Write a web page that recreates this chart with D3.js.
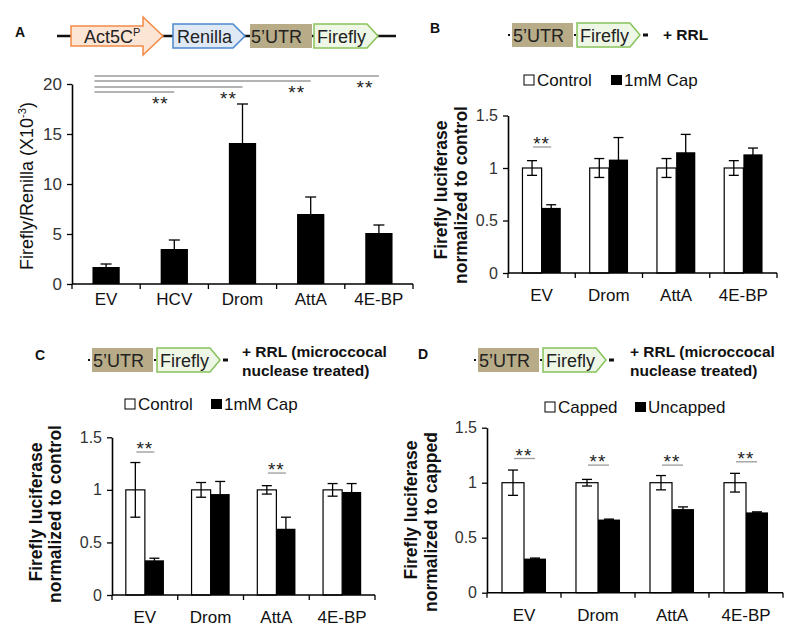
<!DOCTYPE html>
<html><head><meta charset="utf-8">
<script src="https://cdn.jsdelivr.net/npm/d3@7"></script>
<style>
body{margin:0;background:#fff;}
svg{display:block;font-family:"Liberation Sans",Arial,sans-serif;}
</style></head><body>
<svg id="c" width="800" height="638"></svg>
<script>
// ---------- DATA ----------
const catsA = ["EV","HCV","Drom","AttA","4E-BP"];
const valsA = [1.7,3.5,14.1,7.0,5.1];
const errA  = [0.3,0.9,3.9,1.7,0.8];
const ticksA = [0,5,10,15,20];
const sigA = [{to:"HCV",y:19.2},{to:"Drom",y:19.7},{to:"AttA",y:20.3},{to:"4E-BP",y:20.8}];

const catsN = ["EV","Drom","AttA","4E-BP"];
const ticksN = [0,0.5,1,1.5];

const ctrlB = [1,1,1,1];
const ctrlErrB = [0.07,0.09,0.09,0.07];
const capB = [0.62,1.08,1.15,1.13];
const capErrB = [0.03,0.21,0.17,0.06];
const sigB = [{cat:"EV",y:1.20}];

const ctrlC = [1,1,1,1];
const ctrlErrC = [0.26,0.07,0.04,0.06];
const capC = [0.33,0.96,0.63,0.98];
const capErrC = [0.02,0.12,0.11,0.08];
const sigC = [{cat:"EV",y:1.36},{cat:"AttA",y:1.16}];

const cappedD = [1,1,1,1];
const cappedErrD = [0.115,0.03,0.065,0.085];
const uncD = [0.31,0.665,0.76,0.73];
const uncErrD = [0.005,0.004,0.02,0.005];
const sigD = [{cat:"EV",y:1.22},{cat:"Drom",y:1.16},{cat:"AttA",y:1.16},{cat:"4E-BP",y:1.19}];

// ---------- DRAW ----------
const svg = d3.select("#c");
const SIG = "#9a9a9a";

function yAxis(g, y, ticks, fs){
  const ax = g.append("g")
    .call(d3.axisLeft(y).tickValues(ticks).tickSize(5).tickSizeOuter(0).tickPadding(5).tickFormat(d=>String(d)));
  ax.select(".domain").attr("stroke","#000").attr("stroke-width",1.6);
  ax.selectAll(".tick line").attr("stroke","#000").attr("stroke-width",1.3);
  ax.selectAll(".tick text").attr("font-size",fs).attr("fill","#333").attr("font-family","Liberation Sans, Arial, sans-serif");
  return ax;
}
function xAxis(g, x, y0, labOff, fs){
  const r = x.range();
  g.append("line").attr("x1",r[0]).attr("x2",r[1]).attr("y1",y0).attr("y2",y0).attr("stroke","#000").attr("stroke-width",1.6);
  const n = x.domain().length;
  for(let i=0;i<=n;i++){
    const xx = r[0]+i*x.step();
    g.append("line").attr("x1",xx).attr("x2",xx).attr("y1",y0).attr("y2",y0+5).attr("stroke","#000").attr("stroke-width",1.3);
  }
  g.selectAll(null).data(x.domain()).enter().append("text")
    .attr("x",d=>x(d)+x.bandwidth()/2).attr("y",y0+labOff)
    .attr("text-anchor","middle").attr("font-size",fs).attr("fill","#111").text(d=>d);
}
function errBar(g, cx, y, v, e, cap){
  const t=y(v+e), b=y(v-e);
  g.append("line").attr("x1",cx).attr("x2",cx).attr("y1",t).attr("y2",b).attr("stroke","#000").attr("stroke-width",1.3);
  [t,b].forEach(yy=>g.append("line").attr("x1",cx-cap/2).attr("x2",cx+cap/2).attr("y1",yy).attr("y2",yy).attr("stroke","#000").attr("stroke-width",1.3));
}
function stars(g, cx, yLine, gap){
  g.append("text").attr("x",cx).attr("y",yLine-gap).attr("text-anchor","middle")
    .attr("font-size",19).attr("fill","#222").attr("letter-spacing",1).text("**");
}
function yTitle(g, lines, xs, yc, fs, bold){
  lines.forEach((l,i)=>{
    const t = g.append("text").attr("transform",`translate(${xs[i]},${yc[i]}) rotate(-90)`)
      .attr("text-anchor","middle").attr("font-size",fs).attr("font-weight",bold?"bold":"normal").attr("fill","#111");
    if(Array.isArray(l)){
      t.append("tspan").text(l[0]);
      t.append("tspan").attr("font-size",fs*0.62).attr("dy",-fs*0.38).text(l[1]);
      t.append("tspan").attr("dy",fs*0.38).text(l[2]);
    } else t.text(l);
  });
}

// ---------- Panel A ----------
(function(){
  const g = svg.append("g");
  const x = d3.scaleBand().domain(catsA).range([72,413]).paddingInner(0.6).paddingOuter(0.3);
  const y = d3.scaleLinear().domain([0,20]).range([284,84]);
  g.selectAll(null).data(catsA).enter().append("rect")
    .attr("x",d=>x(d)).attr("width",x.bandwidth())
    .attr("y",(d,i)=>y(valsA[i])).attr("height",(d,i)=>y(0)-y(valsA[i])).attr("fill","#000");
  catsA.forEach((c,i)=>errBar(g, x(c)+x.bandwidth()/2, y, valsA[i], errA[i], 11));
  const ga = g.append("g").attr("transform","translate(72,0)");
  yAxis(ga, y, ticksA, 17);
  xAxis(g, x, 284, 21, 17);
  sigA.forEach(s=>{
    const xe = x(s.to)+x.bandwidth()/2;
    g.append("line").attr("x1",x("EV")+2).attr("x2",xe).attr("y1",y(s.y)).attr("y2",y(s.y)).attr("stroke",SIG).attr("stroke-width",1.3);
    stars(g, xe-14, y(s.y), -18);
  });
  yTitle(g, [["Firefly/Renilla (X10","-3",")"]], [33], [186], 18, false);
})();

// ---------- grouped panels ----------
function grouped(o){
  const g = svg.append("g");
  const x = d3.scaleBand().domain(catsN).range([o.x0,o.x1]).paddingInner(o.pad).paddingOuter(o.pad/2);
  const y = d3.scaleLinear().domain([0,1.5]).range([o.yb,o.yt]);
  const bw = x.bandwidth()/2;
  catsN.forEach((c,i)=>{
    g.append("rect").attr("x",x(c)).attr("width",bw).attr("y",y(o.a[i])).attr("height",y(0)-y(o.a[i]))
      .attr("fill","#fff").attr("stroke","#000").attr("stroke-width",1.2);
    g.append("rect").attr("x",x(c)+bw).attr("width",bw).attr("y",y(o.b[i])).attr("height",y(0)-y(o.b[i]))
      .attr("fill","#000");
    errBar(g, x(c)+bw/2, y, o.a[i], o.ae[i], 10);
    errBar(g, x(c)+bw*1.5, y, o.b[i], o.be[i], 10);
  });
  const ga = g.append("g").attr("transform",`translate(${o.x0},0)`);
  yAxis(ga, y, ticksN, 16);
  xAxis(g, x, o.yb, 28, 17);
  o.sig.forEach(s=>{
    const x1 = x(s.cat)+bw/2, x2 = x(s.cat)+bw*1.5;
    g.append("line").attr("x1",x1+1).attr("x2",x2).attr("y1",y(s.y)).attr("y2",y(s.y)).attr("stroke",SIG).attr("stroke-width",1.3);
    stars(g, (x1+x2)/2, y(s.y), -3);
  });
  yTitle(g, o.title, o.tx, o.ty, 17.5, true);
  const L = o.leg;
  g.append("rect").attr("x",L.x1).attr("y",L.y).attr("width",10).attr("height",10).attr("fill","#fff").attr("stroke","#000").attr("stroke-width",1);
  g.append("text").attr("x",L.x1+13).attr("y",L.y+11).attr("font-size",17).attr("fill","#111").text(L.t1);
  g.append("rect").attr("x",L.x2).attr("y",L.y).attr("width",11).attr("height",10).attr("fill","#000");
  g.append("text").attr("x",L.x2+13).attr("y",L.y+11).attr("font-size",17).attr("fill","#111").text(L.t2);
}

grouped({x0:508,x1:777,yb:273,yt:115.5,pad:0.43,a:ctrlB,ae:ctrlErrB,b:capB,be:capErrB,sig:sigB,
  title:["Firefly luciferase","normalized to control"],tx:[447,467],ty:[190,195],
  leg:{x1:524,x2:611,y:75,t1:"Control",t2:"1mM Cap"}});
grouped({x0:112,x1:375,yb:595,yt:437.3,pad:0.42,a:ctrlC,ae:ctrlErrC,b:capC,be:capErrC,sig:sigC,
  title:["Firefly luciferase","normalized to control"],tx:[42,61],ty:[512,514],
  leg:{x1:125,x2:211,y:399,t1:"Control",t2:"1mM Cap"}});
grouped({x0:487,x1:783,yb:592.7,yt:427.7,pad:0.405,a:cappedD,ae:cappedErrD,b:uncD,be:uncErrD,sig:sigD,
  title:["Firefly luciferase","normalized to capped"],tx:[417,437],ty:[510,522],
  leg:{x1:545,x2:635,y:402,t1:"Capped",t2:"Uncapped"}});

// ---------- panel letters ----------
[["A",15,37],["B",430,33],["C",35,360],["D",418,359]].forEach(([t,x,y])=>
  svg.append("text").attr("x",x).attr("y",y).attr("font-size",14).attr("font-weight","bold").attr("fill","#111").text(t));

// ---------- construct schematics ----------
const UTR_FILL="#b7ab88", FF_FILL="#eef6e6", FF_STROKE="#86c35a";
function pent(x0,x1,tip,yt,yb,fill,stroke){
  const ym=(yt+yb)/2;
  svg.append("polygon").attr("points",`${x0},${yt} ${x1},${yt} ${tip},${ym} ${x1},${yb} ${x0},${yb}`)
    .attr("fill",fill).attr("stroke",stroke).attr("stroke-width",1.5);
}
function lbl(t,x,y,fs){ return svg.append("text").attr("x",x).attr("y",y).attr("font-size",fs).attr("fill","#222").text(t); }

svg.append("line").attr("x1",57).attr("x2",396).attr("y1",36).attr("y2",36).attr("stroke","#111").attr("stroke-width",2.5);
svg.append("polygon").attr("points","71,26 143,26 143,17 163,36 143,55 143,46 71,46")
  .attr("fill","#fde5d6").attr("stroke","#f08a45").attr("stroke-width",1.5);
(function(){const t=lbl("Act5C",84,43,18); t.append("tspan").attr("font-size",11).attr("dy",-7).text("P");})();
pent(173,233,245,24,48,"#dfe9f6","#4b88cc"); lbl("Renilla",177,43,18);
svg.append("rect").attr("x",250).attr("y",24).attr("width",62).attr("height",24).attr("fill",UTR_FILL);
lbl("5’UTR",251,43,18);
pent(314,367,378,24,48,FF_FILL,FF_STROKE); lbl("Firefly",317,43,18);

function construct(dx,ybase,txt1,txt2,tx,tb){
  const yt=ybase-12, yb=ybase+12;
  svg.append("rect").attr("x",dx-4).attr("y",ybase-1).attr("width",2).attr("height",2).attr("fill","#111");
  svg.append("rect").attr("x",dx).attr("y",yt).attr("width",61).attr("height",24).attr("fill",UTR_FILL);
  lbl("5’UTR",dx+1,ybase+7,18);
  svg.append("rect").attr("x",dx+62).attr("y",ybase-1).attr("width",2).attr("height",2).attr("fill","#111");
  pent(dx+65,dx+118,dx+128,yt,yb,FF_FILL,FF_STROKE); lbl("Firefly",dx+68,ybase+7,18);
  svg.append("rect").attr("x",dx+131).attr("y",ybase-1.5).attr("width",5).attr("height",3).attr("fill","#111");
  lbl(txt1,tx,tb,15.5).attr("font-weight","bold").attr("fill","#111");
  if(txt2) lbl(txt2,tx,tb+18.5,15.5).attr("font-weight","bold").attr("fill","#111");
}
construct(512,35,"+ RRL",null,663,40);
construct(92,360,"+ RRL (microccocal","nuclease treated)",242,357);
construct(478,360,"+ RRL (microccocal","nuclease treated)",630,357);
</script></body></html>
